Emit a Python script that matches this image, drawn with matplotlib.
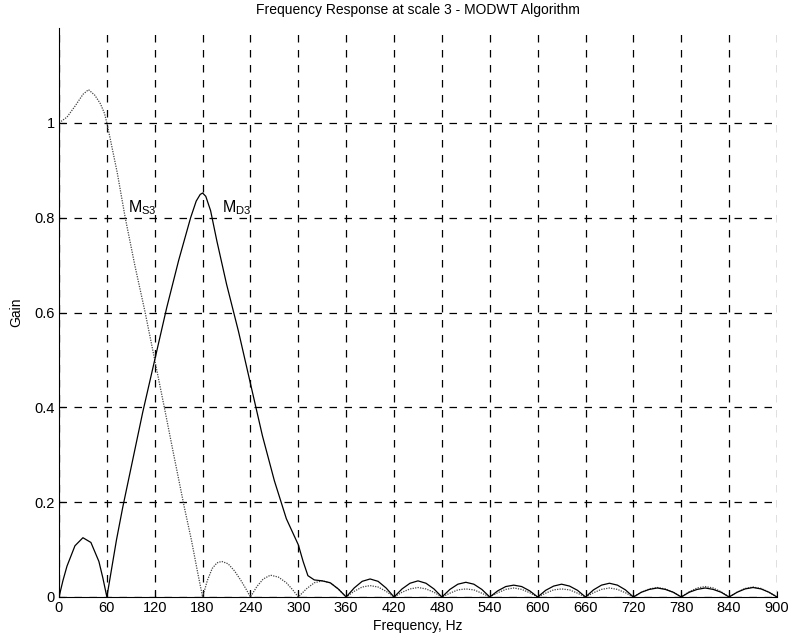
import matplotlib
matplotlib.use('Agg')
import matplotlib.pyplot as plt

# M_S3 (dotted)
freq_s = [0, 10, 20, 30, 37, 45, 52, 57, 60, 65, 73, 83, 95, 108, 120, 132, 145, 157, 166, 174, 180,
          186, 192, 198, 204, 212, 220, 228, 234, 240,
          248, 256, 265, 275, 285, 293, 300,
          310, 320, 330, 340, 350, 360,
          370, 380, 390, 400, 410, 420,
          430, 440, 450, 460, 470, 480,
          490, 500, 510, 520, 530, 540,
          550, 560, 570, 580, 590, 600,
          610, 620, 630, 640, 650, 660,
          670, 680, 690, 700, 710, 720,
          730, 740, 750, 760, 770, 780,
          790, 800, 810, 820, 830, 840,
          850, 860, 870, 880, 890, 900]
gain_s = [1.0, 1.012, 1.035, 1.06, 1.07, 1.058, 1.04, 1.02, 1.0, 0.96, 0.895, 0.8, 0.7, 0.6, 0.5, 0.4, 0.29, 0.19, 0.12, 0.05, 0.0,
          0.035, 0.06, 0.072, 0.075, 0.07, 0.055, 0.035, 0.018, 0.0,
          0.022, 0.038, 0.046, 0.042, 0.03, 0.015, 0.0,
          0.017, 0.03, 0.034, 0.03, 0.017, 0.0,
          0.012, 0.021, 0.024, 0.021, 0.012, 0.0,
          0.010, 0.017, 0.020, 0.017, 0.010, 0.0,
          0.008, 0.015, 0.017, 0.015, 0.008, 0.0,
          0.009, 0.016, 0.019, 0.016, 0.009, 0.0,
          0.008, 0.015, 0.017, 0.015, 0.008, 0.0,
          0.009, 0.016, 0.019, 0.016, 0.009, 0.0,
          0.010, 0.017, 0.020, 0.017, 0.010, 0.0,
          0.011, 0.019, 0.022, 0.019, 0.011, 0.0,
          0.010, 0.018, 0.021, 0.018, 0.010, 0.0]

# M_D3 (solid)
freq_d = [0, 5, 10, 20, 30, 40, 50, 55, 60, 66, 72, 80, 90, 105, 120, 135, 150, 165, 172, 177, 180, 184, 190, 198,
          210, 225, 240, 255, 270, 285, 300, 306, 312, 320, 330, 340, 350, 360,
          370, 380, 390, 400, 410, 420,
          430, 440, 450, 460, 470, 480,
          490, 500, 510, 520, 530, 540,
          550, 560, 570, 580, 590, 600,
          610, 620, 630, 640, 650, 660,
          670, 680, 690, 700, 710, 720,
          730, 740, 750, 760, 770, 780,
          790, 800, 810, 820, 830, 840,
          850, 860, 870, 880, 890, 900]
gain_d = [0.0, 0.035, 0.065, 0.108, 0.125, 0.115, 0.075, 0.04, 0.0, 0.06, 0.12, 0.19, 0.27, 0.39, 0.5, 0.61, 0.71, 0.8, 0.835, 0.849, 0.852, 0.845, 0.815, 0.75,
          0.66, 0.56, 0.45, 0.34, 0.245, 0.165, 0.11, 0.075, 0.045, 0.036, 0.034, 0.03, 0.017, 0.0,
          0.019, 0.033, 0.038, 0.033, 0.019, 0.0,
          0.017, 0.029, 0.034, 0.029, 0.017, 0.0,
          0.016, 0.027, 0.031, 0.027, 0.016, 0.0,
          0.013, 0.022, 0.025, 0.022, 0.013, 0.0,
          0.014, 0.023, 0.027, 0.023, 0.014, 0.0,
          0.015, 0.025, 0.029, 0.025, 0.015, 0.0,
          0.010, 0.016, 0.019, 0.016, 0.010, 0.0,
          0.010, 0.016, 0.019, 0.016, 0.010, 0.0,
          0.010, 0.017, 0.020, 0.017, 0.010, 0.0]

xticks = list(range(0, 901, 60))
yticks = [0, 0.2, 0.4, 0.6, 0.8, 1]
ytick_labels = ['0', '0.2', '0.4', '0.6', '0.8', '1']

plt.rcParams['font.family'] = ['Liberation Sans', 'DejaVu Sans']
plt.rcParams['font.size'] = 10

fig = plt.figure(figsize=(7.93, 6.44), dpi=100)
ax = fig.add_axes([0.0744, 0.073, 0.9054, 0.8835])

ax.plot(freq_s, gain_s, linestyle=(0, (1, 1)), color='#444444', linewidth=0.9)
ax.plot(freq_d, gain_d, '-', color='black', linewidth=0.9)

ax.set_xlim(0, 900)
ax.set_ylim(0, 1.2)
ax.set_xticks(xticks)
ax.set_yticks(yticks)
ax.set_yticklabels(ytick_labels)
ax.grid(True, linestyle=(0, (6, 6)), color='black', linewidth=0.9)
ax.tick_params(direction='in', length=4, pad=3, labelsize=10.5)
ax.spines['top'].set_visible(False)
ax.spines['right'].set_visible(False)

ax.text(87, 0.812, r'M$_{\mathregular{S3}}$', fontsize=11.5)
ax.text(204, 0.812, r'M$_{\mathregular{D3}}$', fontsize=11.5)

ax.set_title('Frequency Response at scale 3 - MODWT Algorithm', fontsize=10, pad=10)
ax.set_xlabel('Frequency, Hz', fontsize=10, labelpad=3)
ax.set_ylabel('Gain', fontsize=10, labelpad=8)

plt.savefig('out.png', dpi=100)
